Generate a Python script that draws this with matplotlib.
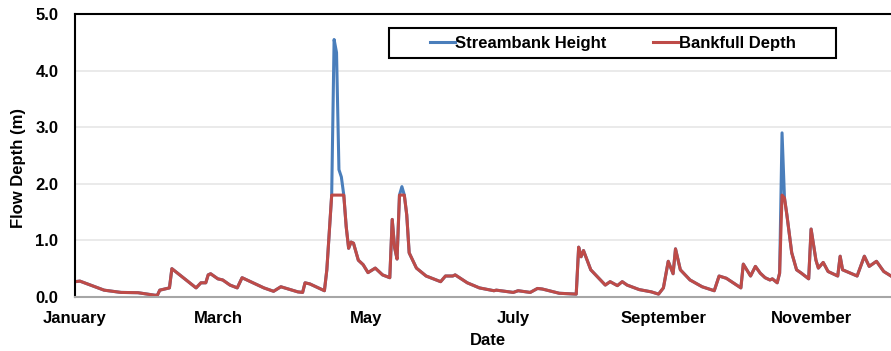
import matplotlib
matplotlib.use("Agg")
import matplotlib.pyplot as plt
from matplotlib.patches import Rectangle

plt.rcParams['font.family'] = ['Liberation Sans', 'DejaVu Sans']
plt.rcParams['font.weight'] = 'bold'

# day of year (0 = Jan 1) for each reading
day = [0, 2, 12, 19, 26, 33, 34, 35, 38, 39, 40, 45, 50, 52, 54, 55, 56, 59,
       61, 64, 67, 69, 78, 82, 85, 92, 94, 95, 97, 103, 104, 106, 107, 108,
       109, 110, 111, 112, 113, 114, 115, 117, 119, 121, 124, 127, 130, 131,
       132, 133, 134, 135, 136, 137, 138, 141, 145, 151, 153, 156, 157, 162,
       167, 173, 174, 181, 183, 188, 191, 193, 200, 207, 208, 209, 210, 213,
       217, 219, 221, 224, 226, 228, 233, 238, 241, 243, 245, 247, 248, 250,
       254, 259, 264, 266, 269, 275, 276, 279, 281, 283, 285, 287, 288, 290,
       291, 292, 293, 294, 296, 298, 300, 303, 304, 306, 307, 309, 311, 315,
       316, 317, 323, 326, 328, 331, 334, 337]

# flow depth up to the top of the streambank (m)
streambank_height = [
    0.27, 0.28, 0.12, 0.08, 0.075, 0.03, 0.03, 0.12, 0.15, 0.16, 0.50, 0.33,
    0.16, 0.25, 0.25, 0.39, 0.41, 0.32, 0.30, 0.21, 0.16, 0.34, 0.16, 0.10,
    0.18, 0.09, 0.08, 0.25, 0.23, 0.11, 0.48, 1.80, 4.55, 4.32, 2.25, 2.12,
    1.80, 1.24, 0.86, 0.97, 0.95, 0.65, 0.57, 0.43, 0.51, 0.39, 0.34, 1.37,
    0.87, 0.67, 1.80, 1.95, 1.80, 1.45, 0.78, 0.51, 0.37, 0.27, 0.37, 0.37,
    0.39, 0.25, 0.16, 0.11, 0.12, 0.08, 0.11, 0.08, 0.15, 0.14, 0.065, 0.05,
    0.88, 0.71, 0.82, 0.48, 0.30, 0.21, 0.27, 0.20, 0.27, 0.21, 0.13, 0.09,
    0.05, 0.16, 0.63, 0.41, 0.85, 0.48, 0.30, 0.18, 0.11, 0.37, 0.33, 0.16,
    0.58, 0.37, 0.54, 0.42, 0.34, 0.30, 0.32, 0.25, 0.42, 2.90, 1.75, 1.45,
    0.78, 0.48, 0.42, 0.32, 1.20, 0.65, 0.51, 0.61, 0.45, 0.37, 0.72, 0.48,
    0.37, 0.72, 0.54, 0.63, 0.45, 0.37]

# flow depth limited to bankfull (m)
bankfull_depth = [
    0.27, 0.28, 0.12, 0.08, 0.075, 0.03, 0.03, 0.12, 0.15, 0.16, 0.50, 0.33,
    0.16, 0.25, 0.25, 0.39, 0.41, 0.32, 0.30, 0.21, 0.16, 0.34, 0.16, 0.10,
    0.18, 0.09, 0.08, 0.25, 0.23, 0.11, 0.48, 1.80, 1.80, 1.80, 1.80, 1.80,
    1.80, 1.24, 0.86, 0.97, 0.95, 0.65, 0.57, 0.43, 0.51, 0.39, 0.34, 1.37,
    0.87, 0.67, 1.80, 1.80, 1.80, 1.45, 0.78, 0.51, 0.37, 0.27, 0.37, 0.37,
    0.39, 0.25, 0.16, 0.11, 0.12, 0.08, 0.11, 0.08, 0.15, 0.14, 0.065, 0.05,
    0.88, 0.71, 0.82, 0.48, 0.30, 0.21, 0.27, 0.20, 0.27, 0.21, 0.13, 0.09,
    0.05, 0.16, 0.63, 0.41, 0.85, 0.48, 0.30, 0.18, 0.11, 0.37, 0.33, 0.16,
    0.58, 0.37, 0.54, 0.42, 0.34, 0.30, 0.32, 0.25, 0.42, 1.80, 1.75, 1.45,
    0.78, 0.48, 0.42, 0.32, 1.20, 0.65, 0.51, 0.61, 0.45, 0.37, 0.72, 0.48,
    0.37, 0.72, 0.54, 0.63, 0.45, 0.37]

month_ticks = [0, 59, 120, 181, 243, 304]
month_labels = ['January', 'March', 'May', 'July', 'September', 'November']
depth_ticks = [0, 1, 2, 3, 4, 5]

fs = 12

fig = plt.figure(figsize=(8.91, 3.51), dpi=100)
ax = fig.add_axes([0.0842, 0.154, 0.9158, 0.806])

ax.plot(day, streambank_height, color='#4A7EBB', lw=2.2, label='Streambank Height',
        solid_joinstyle='round')
ax.plot(day, bankfull_depth, color='#BE4B48', lw=2.2, label='Bankfull Depth',
        solid_joinstyle='round')

ax.set_xlim(0, 337)
ax.set_ylim(0, 5)
ax.set_xticks(month_ticks)
ax.set_xticklabels(month_labels)
ax.set_yticks(depth_ticks)
ax.set_yticklabels([f'{v:.1f}' for v in depth_ticks])
ax.tick_params(axis='both', length=0, labelsize=fs)
ax.tick_params(axis='y', pad=12)
ax.tick_params(axis='x', pad=10)

ax.grid(axis='y', color='#e6e6e6', lw=1.2)
ax.set_axisbelow(True)

for side in ['left', 'top']:
    ax.spines[side].set_color('black')
    ax.spines[side].set_linewidth(1.5)
ax.spines['bottom'].set_color('#a6a6a6')
ax.spines['bottom'].set_linewidth(1.5)
ax.spines['right'].set_visible(False)

ax.set_ylabel('Flow Depth (m)', fontsize=fs, fontweight='bold')
ax.yaxis.set_label_coords(-0.06, 0.456)
ax.set_xlabel('Date', fontsize=fs, fontweight='bold')
ax.xaxis.set_label_coords(0.506, -0.128)

# legend box with entries centred inside it
ax.add_patch(Rectangle((0.385, 0.8445), 0.548, 0.106, transform=ax.transAxes,
                       facecolor='white', edgecolor='black', lw=1.5, zorder=5))
leg = ax.legend(loc='center', bbox_to_anchor=(0.6587, 0.8975), ncol=2,
                frameon=False, fontsize=fs, handlelength=1.5,
                handletextpad=0.05, columnspacing=2.75)
leg.set_zorder(6)

fig.savefig('out.png', dpi=100, facecolor='white')
